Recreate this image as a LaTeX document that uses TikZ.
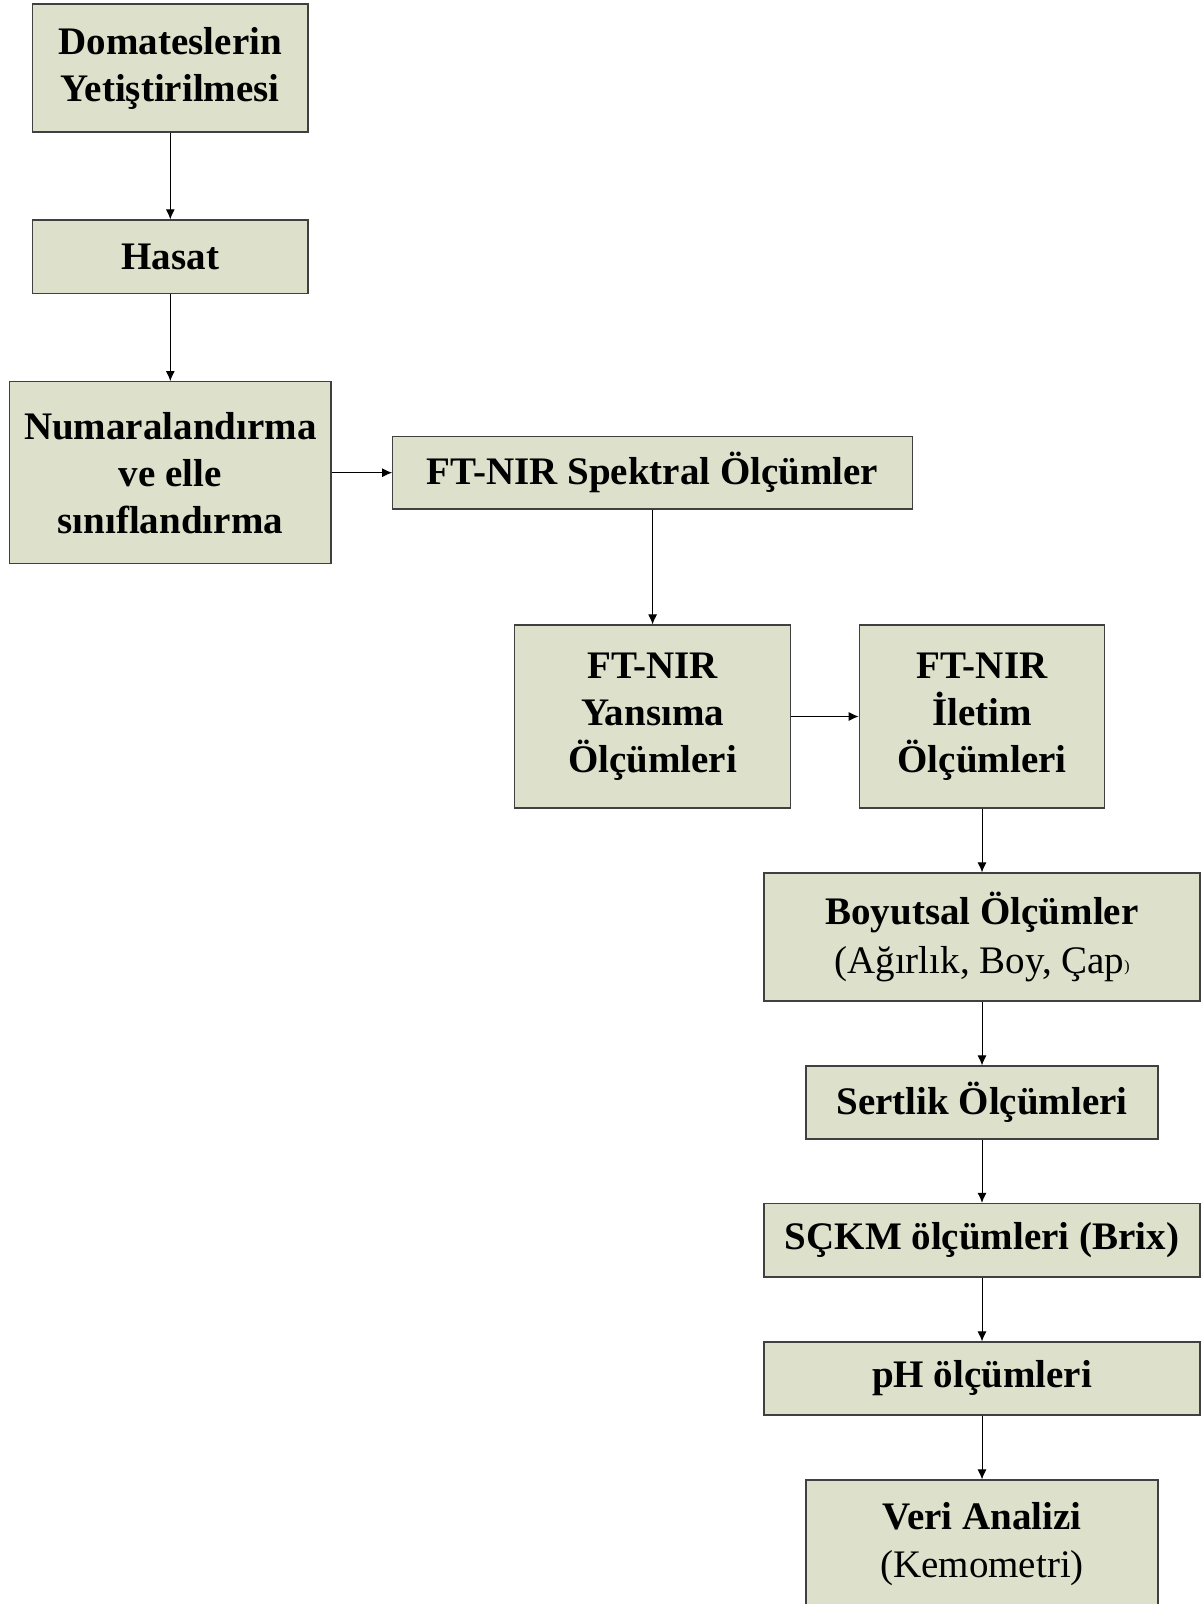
\documentclass[tikz,border=0pt]{standalone}
\usepackage{fontspec}
\setmainfont{Liberation Serif}
\usetikzlibrary{arrows.meta}
\definecolor{boxfill}{HTML}{DDE0CA}
\definecolor{boxline}{HTML}{404040}
\tikzset{
  box/.style={draw=boxline, fill=boxfill, line width=0.6pt, inner sep=0pt,
    align=center, font=\fontsize{19.5pt}{23.5pt}\selectfont\bfseries},
  conn/.style={-{Latex[length=5pt,width=4.5pt]}, line width=0.5pt, black}
}
\begin{document}
\begin{tikzpicture}[x=0.5pt,y=-0.5pt]
\useasboundingbox (0,0) rectangle (1202,1604);
\clip (0,0) rectangle (1202,1604);
\fill[white] (0,0) rectangle (1202,1604);
\node[box, minimum width=137.75pt, minimum height=64pt] (dom) at (170.3,68) {Domateslerin\\Yetiştirilmesi};
\node[box, minimum width=137.75pt, minimum height=36.8pt] (has) at (170.3,256.8) {Hasat};
\node[box, minimum width=160.6pt, minimum height=91pt] (num) at (170.3,472.7) {Numaralandırma\\ve elle\\sınıflandırma};
\node[box, minimum width=259.85pt, minimum height=36.3pt] (spk) at (652.6,472.7) {FT-NIR Spektral Ölçümler};
\node[box, minimum width=138.1pt, minimum height=91.5pt] (yan) at (652.6,716.5) {FT-NIR\\Yansıma\\Ölçümleri};
\node[box, minimum width=122.75pt, minimum height=91.5pt] (ile) at (982,716.5) {FT-NIR\\İletim\\Ölçümleri};
\node[box, minimum width=218pt, minimum height=64pt, font=\fontsize{19.5pt}{24.5pt}\selectfont\bfseries] (boy) at (982,937) {Boyutsal Ölçümler\\\mdseries(Ağırlık, Boy, Çap\raisebox{1pt}{\fontsize{8pt}{8pt}\selectfont)}};
\node[box, minimum width=176pt, minimum height=36.5pt] (ser) at (982,1102.5) {Sertlik Ölçümleri};
\node[box, minimum width=218pt, minimum height=36.75pt] (sck) at (982,1240.2) {SÇKM ölçümleri (Brix)};
\node[box, minimum width=218pt, minimum height=36.5pt] (ph) at (982,1378.5) {pH ölçümleri};
\node[box, minimum width=176pt, minimum height=64pt, font=\fontsize{19.5pt}{24pt}\selectfont\bfseries] (ver) at (982,1544) {Veri Analizi\\\mdseries(Kemometri)};
\draw[conn] (dom.south) -- (has.north);
\draw[conn] (has.south) -- (num.north);
\draw[conn] (num.east) -- (spk.west);
\draw[conn] (spk.south) -- (yan.north);
\draw[conn] (yan.east) -- (ile.west);
\draw[conn] (ile.south) -- (boy.north);
\draw[conn] (boy.south) -- (ser.north);
\draw[conn] (ser.south) -- (sck.north);
\draw[conn] (sck.south) -- (ph.north);
\draw[conn] (ph.south) -- (ver.north);
\end{tikzpicture}
\end{document}
